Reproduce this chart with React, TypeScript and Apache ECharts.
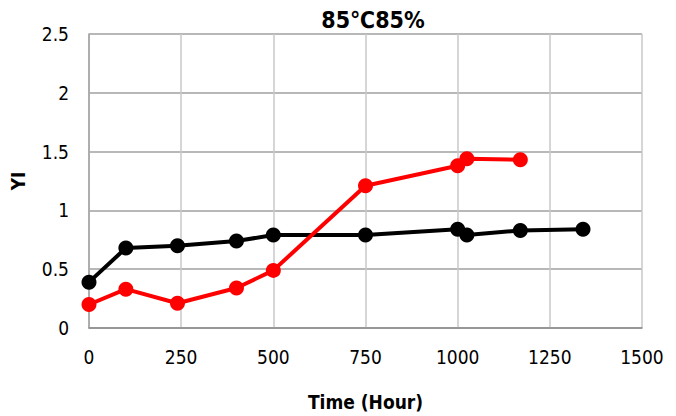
import React, { useEffect, useRef } from "react";
import * as echarts from "echarts";

const titleText = "85℃85%";
const xName = "Time (Hour)";
const yName = "YI";

const blackHours = [0, 100, 240, 400, 500, 750, 1000, 1025, 1170, 1340];
const blackValues = [0.39, 0.68, 0.7, 0.74, 0.79, 0.79, 0.84, 0.79, 0.83, 0.84];

const redHours = [0, 100, 240, 400, 500, 750, 1000, 1025, 1170];
const redValues = [0.2, 0.33, 0.21, 0.34, 0.49, 1.21, 1.38, 1.44, 1.43];

const FONT = "'DejaVu Sans Condensed', 'Liberation Sans Narrow', 'Noto Sans CJK JP', sans-serif";

export default function App() {
  const ref = useRef<HTMLDivElement>(null);
  useEffect(() => {
    if (!ref.current) return;
    const chart = echarts.init(ref.current, undefined, { renderer: "svg" });
    const pair = (xs: number[], ys: number[]) => xs.map((x, i) => [x, ys[i]]);
    chart.setOption({
      animation: false,
      backgroundColor: "#ffffff",
      title: {
        text: titleText,
        left: 368,
        top: 3,
        textAlign: "center",
        textStyle: { fontFamily: FONT, fontSize: 23, fontWeight: "bold", color: "#000" },
      },
      grid: { left: 88, right: 34, top: 34, bottom: 86 },
      xAxis: {
        type: "value",
        min: 0,
        max: 1500,
        interval: 250,
        name: xName,
        nameLocation: "middle",
        nameGap: 64,
        nameTextStyle: { fontFamily: FONT, fontSize: 19, fontWeight: "bold", color: "#000" },
        axisLine: { show: true, lineStyle: { color: "#8c8c8c", width: 1.5 } },
        axisTick: { show: false },
        axisLabel: {
          fontFamily: FONT,
          fontSize: 19,
          color: "#000",
          margin: 19,
          formatter: (v: number) => String(v),
        },
        splitLine: { show: true, lineStyle: { color: "#c8c8c8", width: 1.5 } },
      },
      yAxis: {
        type: "value",
        min: 0,
        max: 2.5,
        interval: 0.5,
        name: yName,
        nameLocation: "middle",
        nameGap: 62,
        nameTextStyle: { fontFamily: FONT, fontSize: 19, fontWeight: "bold", color: "#000" },
        axisLine: { show: true, lineStyle: { color: "#a0a0a0", width: 1.5 } },
        axisTick: { show: false },
        axisLabel: {
          fontFamily: FONT,
          fontSize: 19,
          color: "#000",
          margin: 20,
          padding: [6, 0, 0, 0],
          formatter: (v: number) => String(v),
        },
        splitLine: { show: true, lineStyle: { color: "#a0a0a0", width: 1.5 } },
      },
      series: [
        {
          type: "line",
          data: pair(blackHours, blackValues),
          symbol: "circle",
          symbolSize: 15,
          lineStyle: { color: "#000", width: 4 },
          itemStyle: { color: "#000" },
        },
        {
          type: "line",
          data: pair(redHours, redValues),
          symbol: "circle",
          symbolSize: 15,
          lineStyle: { color: "#ff0000", width: 4 },
          itemStyle: { color: "#ff0000" },
        },
      ],
    });
    return () => chart.dispose();
  }, []);
  return (
    <div
      ref={ref}
      style={{ position: "fixed", left: 0, top: 0, width: 676, height: 416 }}
    />
  );
}
